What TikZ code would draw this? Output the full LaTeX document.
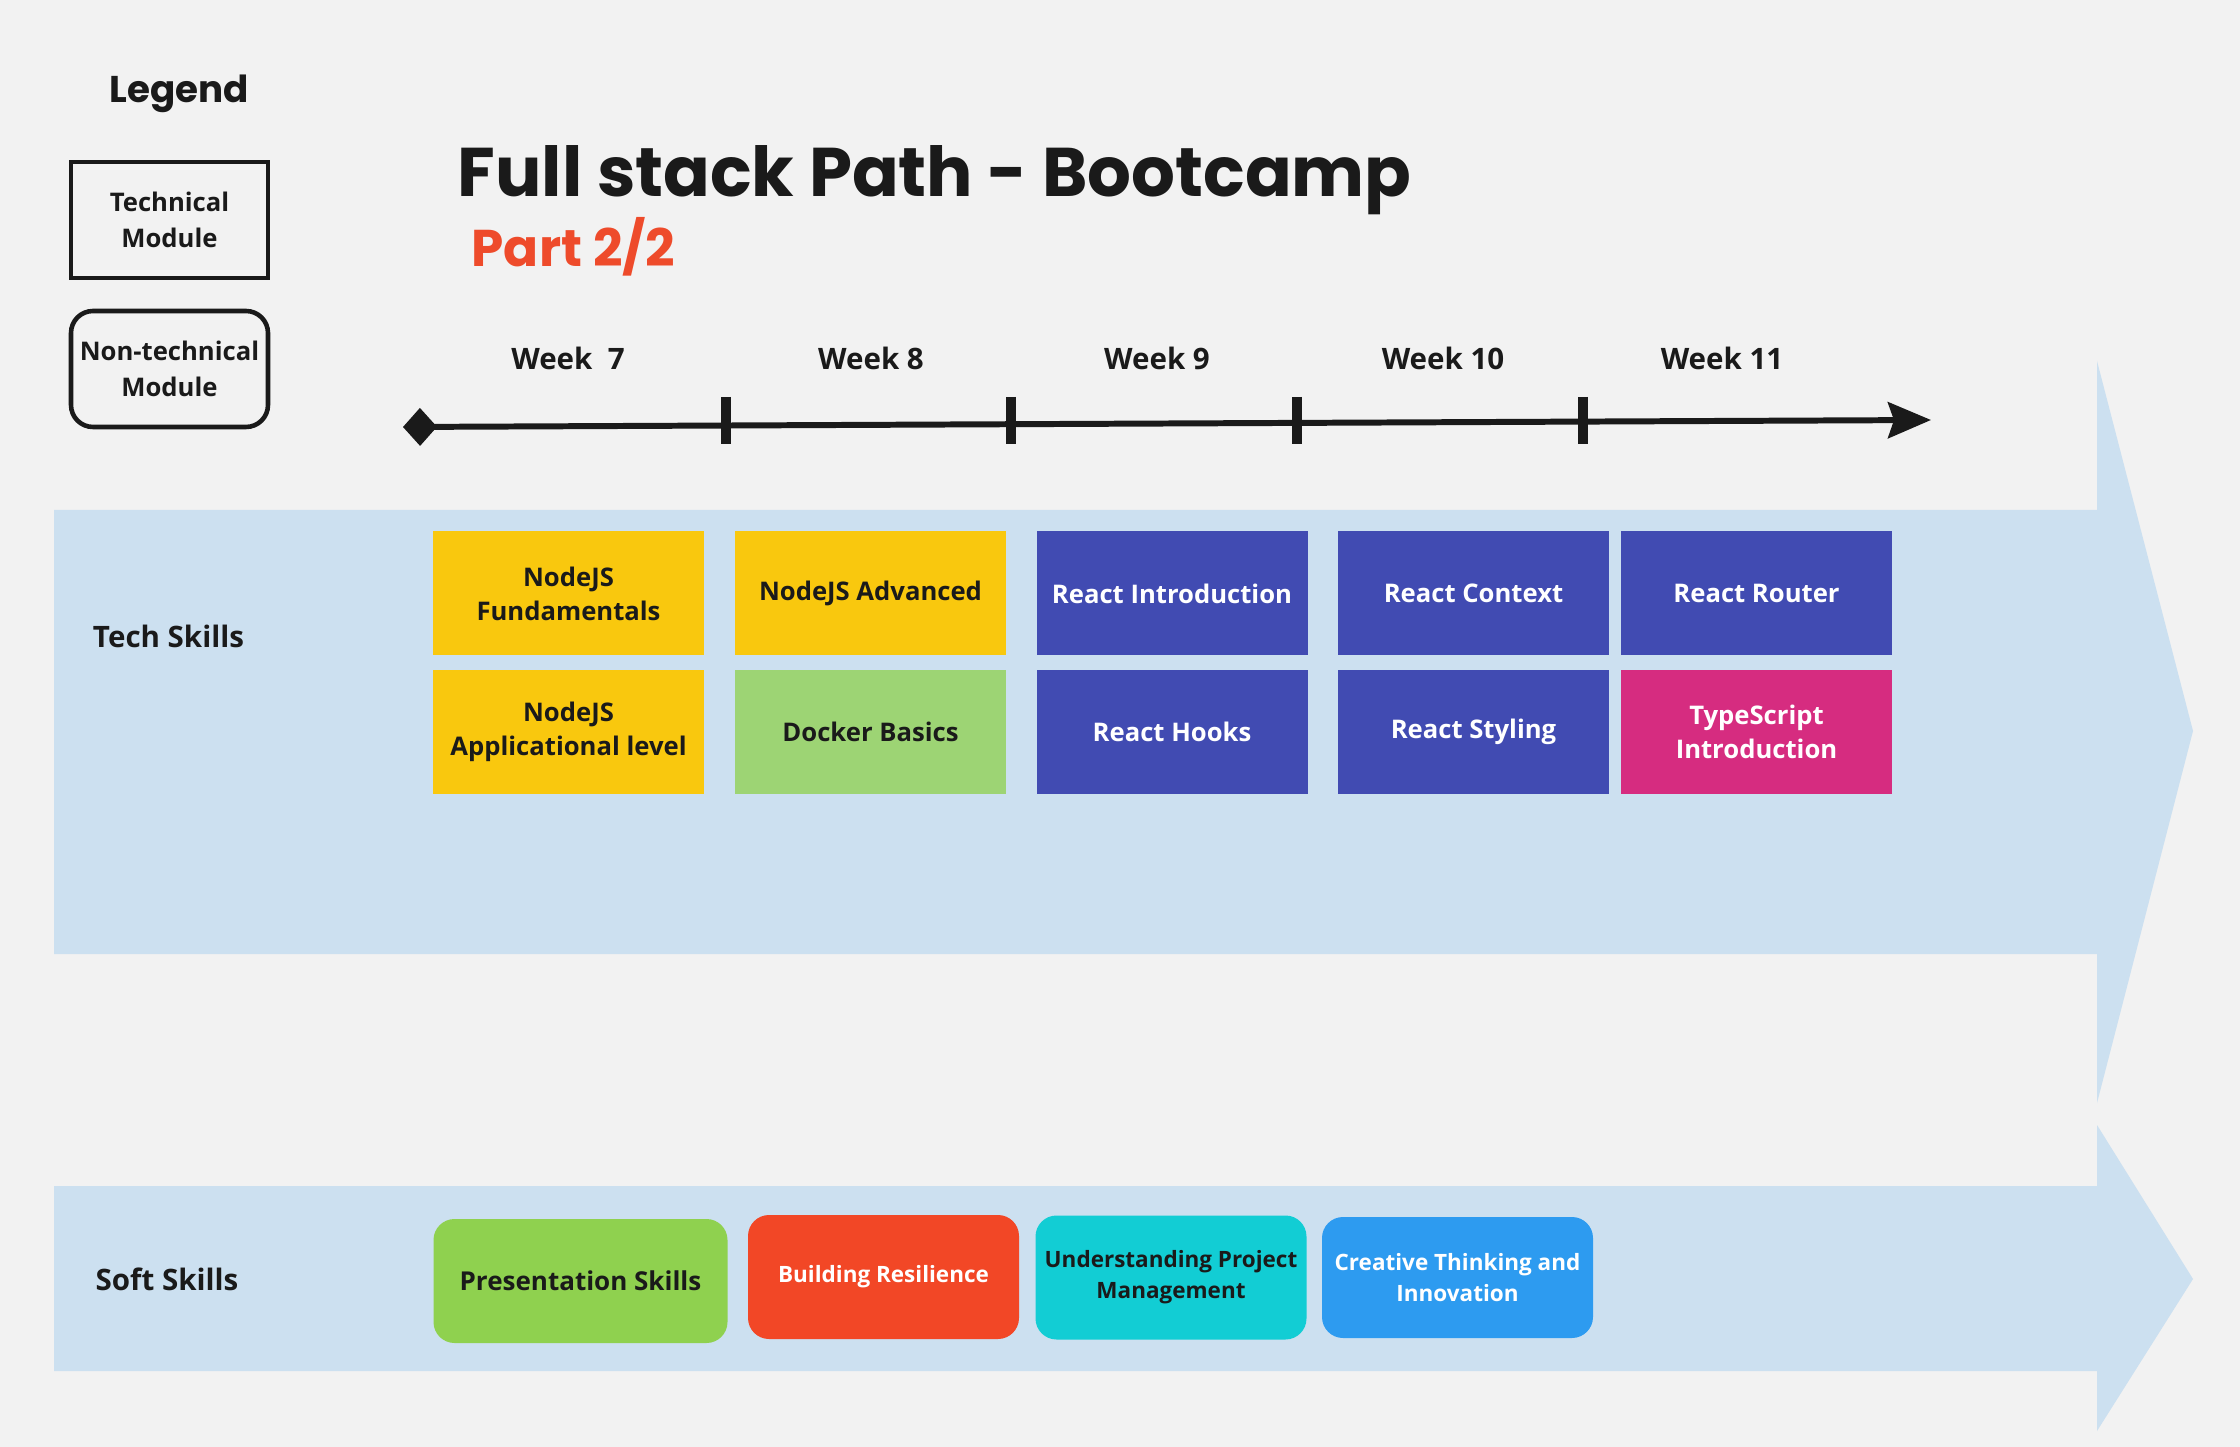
\documentclass[tikz,border=0pt]{standalone}
\usepackage{fontspec}
\setmainfont{Open Sans}
\newfontfamily\headfont{Poppins}
\usetikzlibrary{arrows.meta, positioning}

\definecolor{pagebg}{HTML}{F2F2F2}
\definecolor{laneblue}{HTML}{CCE0F0}
\definecolor{inkblack}{HTML}{1A1A1A}
\definecolor{partred}{HTML}{EE4B2B}
\definecolor{nodeyellow}{HTML}{F9C80E}
\definecolor{dockergreen}{HTML}{9DD474}
\definecolor{reactblue}{HTML}{414BB2}
\definecolor{tsmagenta}{HTML}{D62C80}
\definecolor{softgreen}{HTML}{8FD14F}
\definecolor{softred}{HTML}{F24726}
\definecolor{softcyan}{HTML}{12CDD4}
\definecolor{softblue}{HTML}{2D9BF0}

\begin{document}
\begin{tikzpicture}[inkblack,
    techmod/.style={minimum width=2.71cm, minimum height=1.24cm, inner sep=1pt,
      align=center, font=\bfseries\fontsize{7.3}{9.7}\selectfont},
    softmod/.style={techmod, rounded corners=0.21cm, font=\bfseries\fontsize{6.4}{8.9}\selectfont},
    legendbox/.style={draw=inkblack, line width=1.3pt, minimum width=1.97cm, minimum height=1.16cm,
      align=center, inner sep=1pt, font=\bfseries\fontsize{7.3}{10.2}\selectfont},
    weeklbl/.style={anchor=base, font=\bfseries\fontsize{8.4}{10}\selectfont},
    lanelbl/.style={font=\bfseries\fontsize{8.4}{10}\selectfont},
    timeline/.style={line width=1.7pt, {Diamond[length=0.34cm, width=0.38cm]}-{Stealth[length=0.43cm, width=0.36cm, inset=0.06cm]}},
    tickmark/.style={line width=3pt}]
    % page and bounding box
    \fill[pagebg] (0,0) rectangle (22.4,-14.47);
    \useasboundingbox (0,0) rectangle (22.4,-14.47);

    % --- swim lanes (big light arrows) ---
    \fill[laneblue] (0.54,-5.10) -- (20.97,-5.10) -- (20.97,-3.61) -- (21.93,-7.31)
      -- (20.97,-11.03) -- (20.97,-9.54) -- (0.54,-9.54) -- cycle;
    \fill[laneblue] (0.54,-11.86) -- (20.97,-11.86) -- (20.97,-11.25) -- (21.93,-12.79)
      -- (20.97,-14.31) -- (20.97,-13.71) -- (0.54,-13.71) -- cycle;

    % legend
    \node[anchor=base, font=\headfont\bfseries\fontsize{10.6}{12}\selectfont] (legend) at (1.795,-1.03) {Legend};
    \node[legendbox] (legtech) at (1.695,-2.20) {Technical\\Module};
    \node[legendbox, rounded corners=0.22cm] (legsoft) at (1.695,-3.69) {Non-technical\\Module};

    % title
    \node[anchor=base west, inner sep=0, font=\headfont\bfseries\fontsize{19.6}{22}\selectfont] (title) at (4.57,-1.97) {Full stack Path - Bootcamp};
    \node[anchor=base west, inner sep=0, partred, font=\headfont\bfseries\fontsize{14.7}{16}\selectfont] (part) at (4.71,-2.67) {Part 2/2};

    % --- timeline ---
    \coordinate (tstart) at (4.03,-4.27);
    \coordinate (tend) at (19.31,-4.20);
    \draw[timeline] (tstart) -- (tend);
    \foreach \t/\x in {tk1/7.26, tk2/10.11, tk3/12.97, tk4/15.83}{
      \coordinate (\t) at (\x,-4.205);
      \draw[tickmark] (\t) ++(0,0.235) -- ++(0,-0.47);
    }
    \node[weeklbl] (wk7) at (5.68,-3.70) {Week~~7};
    \node[weeklbl] (wk8) at (8.71,-3.70) {Week 8};
    \node[weeklbl] (wk9) at (11.57,-3.70) {Week 9};
    \node[weeklbl] (wk10) at (14.43,-3.70) {Week 10};
    \node[weeklbl] (wk11) at (17.22,-3.70) {Week 11};

    % tech skills
    \node[lanelbl] (techlbl) at (1.685,-6.36) {Tech Skills};
    \node[techmod, fill=nodeyellow] (nodefund) at (5.685,-5.935) {NodeJS\\Fundamentals};
    \node[techmod, fill=nodeyellow] (nodeadv) at (8.705,-5.935) {NodeJS Advanced};
    \node[techmod, fill=reactblue, text=white] (reactintro) at (11.72,-5.935) {React Introduction};
    \node[techmod, fill=reactblue, text=white] (reactctx) at (14.735,-5.935) {React Context};
    \node[techmod, fill=reactblue, text=white] (reactrouter) at (17.565,-5.935) {React Router};
    \node[techmod, fill=nodeyellow] (nodeapp) at (5.685,-7.32) {NodeJS\\Applicational level};
    \node[techmod, fill=dockergreen] (docker) at (8.705,-7.32) {Docker Basics};
    \node[techmod, fill=reactblue, text=white] (reacthooks) at (11.72,-7.32) {React Hooks};
    \node[techmod, fill=reactblue, text=white] (reactstyle) at (14.735,-7.32) {React Styling};
    \node[techmod, fill=tsmagenta, text=white] (tsintro) at (17.565,-7.32) {TypeScript\\Introduction};

    % soft skills
    \node[lanelbl] (softlbl) at (1.67,-12.79) {Soft Skills};
    \node[softmod, fill=softgreen, minimum width=2.94cm, font=\bfseries\fontsize{7.4}{9}\selectfont] (present) at (5.805,-12.81) {Presentation Skills};
    \node[softmod, fill=softred, text=white] (resil) at (8.835,-12.77) {Building Resilience};
    \node[softmod, fill=softcyan] (projmgmt) at (11.71,-12.775) {Understanding Project\\Management};
    \node[softmod, fill=softblue, text=white, minimum height=1.21cm] (creative) at (14.575,-12.775) {Creative Thinking and\\Innovation};
\end{tikzpicture}
\end{document}
